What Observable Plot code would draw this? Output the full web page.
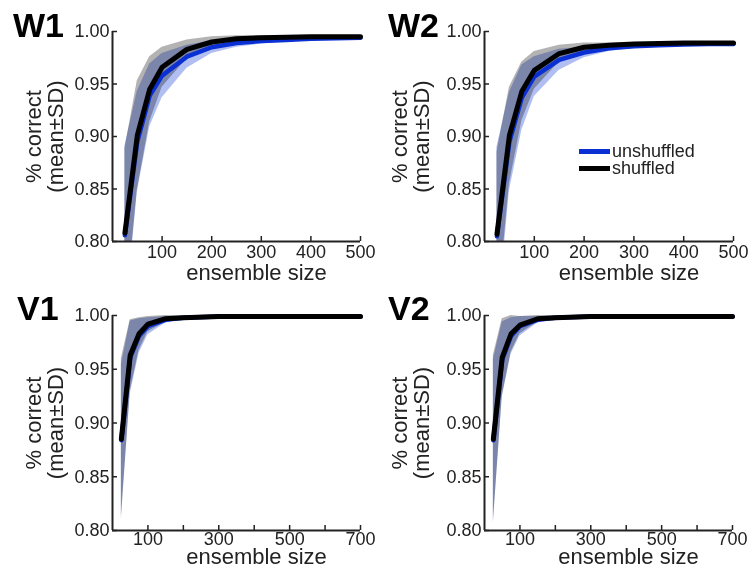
<!DOCTYPE html>
<html><head><meta charset="utf-8">
<script src="https://cdn.jsdelivr.net/npm/d3@7"></script>
<script src="https://cdn.jsdelivr.net/npm/@observablehq/plot@0.6"></script>
<style>
body{margin:0;background:#fff;}
#fig{position:relative;width:751px;height:568px;font-family:"Liberation Sans",Arial,sans-serif;overflow:hidden;background:#fff;}
.panel{position:absolute;}
.panel svg{overflow:visible;}
.plabel{position:absolute;font-weight:bold;font-size:34px;line-height:1;color:#000;white-space:nowrap;}
.ltext{position:absolute;font-size:18px;line-height:1;color:#222;white-space:nowrap;}
.lbar{position:absolute;}
</style></head><body><div id="fig"></div>
<script>
// ---------- data ----------
const sizesW = [25, 50, 75, 100, 150, 200, 250, 300, 350, 400, 450, 500];
const w1ShufMean = [0.808, 0.901, 0.945, 0.966, 0.983, 0.990, 0.993, 0.994, 0.9945, 0.995, 0.995, 0.995];
const w1ShufSd   = [0.080, 0.052, 0.031, 0.019, 0.009, 0.005, 0.003, 0.002, 0.0015, 0.001, 0.001, 0.001];
const w1UnshMean = [0.806, 0.895, 0.939, 0.958, 0.976, 0.985, 0.989, 0.991, 0.992, 0.993, 0.9935, 0.994];
const w1UnshSd   = [0.085, 0.048, 0.030, 0.021, 0.011, 0.006, 0.004, 0.003, 0.002, 0.002, 0.0015, 0.001];

const w2ShufMean = [0.807, 0.901, 0.943, 0.963, 0.979, 0.985, 0.987, 0.988, 0.9885, 0.989, 0.989, 0.989];
const w2ShufSd   = [0.078, 0.046, 0.028, 0.018, 0.008, 0.004, 0.002, 0.0015, 0.001, 0.001, 0.001, 0.001];
const w2UnshMean = [0.805, 0.895, 0.937, 0.957, 0.973, 0.980, 0.984, 0.986, 0.987, 0.9875, 0.988, 0.988];
const w2UnshSd   = [0.085, 0.047, 0.031, 0.019, 0.010, 0.005, 0.003, 0.002, 0.0015, 0.001, 0.001, 0.001];

const sizesV = [25, 50, 75, 100, 150, 200, 300, 400, 500, 600, 700];
const v1ShufMean = [0.885, 0.963, 0.983, 0.992, 0.997, 0.998, 0.999, 0.999, 0.999, 0.999, 0.999];
const v1ShufSd   = [0.075, 0.033, 0.015, 0.007, 0.003, 0.0015, 0.001, 0.001, 0.001, 0.001, 0.001];
const v1UnshMean = [0.884, 0.961, 0.981, 0.990, 0.996, 0.998, 0.999, 0.999, 0.999, 0.999, 0.999];
const v1UnshSd   = [0.070, 0.034, 0.016, 0.008, 0.003, 0.0015, 0.001, 0.001, 0.001, 0.001, 0.001];

const v2ShufMean = [0.885, 0.961, 0.983, 0.991, 0.997, 0.998, 0.999, 0.999, 0.999, 0.999, 0.999];
const v2ShufSd   = [0.078, 0.036, 0.017, 0.008, 0.003, 0.0015, 0.001, 0.001, 0.001, 0.001, 0.001];
const v2UnshMean = [0.884, 0.959, 0.981, 0.990, 0.996, 0.998, 0.999, 0.999, 0.999, 0.999, 0.999];
const v2UnshSd   = [0.075, 0.035, 0.017, 0.009, 0.003, 0.0015, 0.001, 0.001, 0.001, 0.001, 0.001];

const yTicks = [0.80, 0.85, 0.90, 0.95, 1.00];
const xTickLabelsW = [100, 200, 300, 400, 500];
const xTickMarksW = [100, 200, 300, 400, 500];
const xTickLabelsV = [100, 300, 500, 700];
const xTickMarksV = [100, 200, 300, 400, 500, 600, 700];
const panelNames = ["W1", "W2", "V1", "V2"];
const seriesNames = ["unshuffled", "shuffled"];
const yLabel = "% correct\n(mean±SD)";
const xLabel = "ensemble size";

// ---------- drawing ----------
const fig = document.getElementById("fig");
const FONT = "Liberation Sans, Arial, sans-serif";
const AX = "#222";

function rows(sizes, mean, sd) {
  return sizes.map((s, i) => ({size: s, m: mean[i], lo: mean[i] - sd[i], hi: mean[i] + sd[i]}));
}

function panel(o) {
  const plotW = o.width - o.mL - o.mR;
  const plotH = o.height - o.mT - o.mB;
  const shuf = rows(o.sizes, o.shufMean, o.shufSd);
  const unsh = rows(o.sizes, o.unshMean, o.unshSd);
  const svg = Plot.plot({
    width: o.width, height: o.height,
    marginLeft: o.mL, marginRight: o.mR, marginTop: o.mT, marginBottom: o.mB,
    style: {fontFamily: FONT, fontSize: "18px", color: AX, background: "transparent", overflow: "visible"},
    x: {domain: [0, o.xMax]},
    y: {domain: [0.8, 1.0]},
    marks: [
      Plot.areaY(unsh, {x: "size", y1: "lo", y2: "hi", fill: "#b0bef2", clip: true, mixBlendMode: "multiply"}),
      Plot.areaY(shuf, {x: "size", y1: "lo", y2: "hi", fill: "#b3b3b3", clip: true, mixBlendMode: "multiply"}),
      Plot.lineY(unsh, {x: "size", y: "m", stroke: "#0a2fd2", strokeWidth: 4.5}),
      Plot.lineY(shuf, {x: "size", y: "m", stroke: "#000", strokeWidth: 5}),
      Plot.axisY({ticks: yTicks, tickFormat: d => d.toFixed(2), tickSize: 0, tickPadding: 3, label: null, fontSize: 18, fill: AX}),
      Plot.axisX({ticks: o.xTickLabels, tickFormat: d => String(d), tickSize: 0, tickPadding: o.xPad, label: null, fontSize: 18, fill: AX}),
      Plot.tickY(yTicks, {y: d => d, insetRight: plotW - 5, stroke: AX, strokeWidth: 1.5}),
      Plot.tickX(o.xTickMarks, {x: d => d, insetTop: plotH - 5, stroke: AX, strokeWidth: 1.5}),
      Plot.ruleX([0], {stroke: AX, strokeWidth: 2}),
      Plot.ruleY([0.8], {stroke: AX, strokeWidth: 2}),
      Plot.text([yLabel], {frameAnchor: "left", rotate: -90, dx: o.yLabDx, fontSize: 22, lineHeight: 1, textAnchor: "middle", lineAnchor: "middle", fill: AX}),
      Plot.text([xLabel], {frameAnchor: "bottom", dy: o.xLabDy, dx: 20, fontSize: 22, textAnchor: "middle", lineAnchor: "middle", fill: AX})
    ]
  });
  d3.select(svg).selectAll('g[aria-label="area"]').style("mix-blend-mode", "multiply");
  const wrap = document.createElement("div");
  wrap.className = "panel";
  wrap.style.left = o.left + "px";
  wrap.style.top = o.top + "px";
  wrap.appendChild(svg);
  fig.appendChild(wrap);

  const lab = document.createElement("div");
  lab.className = "plabel";
  lab.textContent = o.name;
  lab.style.left = o.labX + "px";
  lab.style.top = o.labY + "px";
  fig.appendChild(lab);
}

panel({name: panelNames[0], labX: 13, labY: 8, left: 0, top: 0, width: 375, height: 284, mL: 112, mR: 15, mT: 31, mB: 43,
  sizes: sizesW, shufMean: w1ShufMean, shufSd: w1ShufSd, unshMean: w1UnshMean, unshSd: w1UnshSd,
  xMax: 500, xTickLabels: xTickLabelsW, xTickMarks: xTickMarksW, yLabDx: -68, xLabDy: 31, xPad: 4});
panel({name: panelNames[1], labX: 388, labY: 8, left: 375, top: 0, width: 376, height: 284, mL: 109, mR: 18, mT: 31, mB: 43,
  sizes: sizesW, shufMean: w2ShufMean, shufSd: w2ShufSd, unshMean: w2UnshMean, unshSd: w2UnshSd,
  xMax: 500, xTickLabels: xTickLabelsW, xTickMarks: xTickMarksW, yLabDx: -74, xLabDy: 31, xPad: 4});
panel({name: panelNames[2], labX: 17, labY: 291, left: 0, top: 284, width: 375, height: 284, mL: 112, mR: 15, mT: 31, mB: 38,
  sizes: sizesV, shufMean: v1ShufMean, shufSd: v1ShufSd, unshMean: v1UnshMean, unshSd: v1UnshSd,
  xMax: 700, xTickLabels: xTickLabelsV, xTickMarks: xTickMarksV, yLabDx: -68, xLabDy: 26, xPad: 2});
panel({name: panelNames[3], labX: 388, labY: 291, left: 375, top: 284, width: 376, height: 284, mL: 109, mR: 19, mT: 31, mB: 38,
  sizes: sizesV, shufMean: v2ShufMean, shufSd: v2ShufSd, unshMean: v2UnshMean, unshSd: v2UnshSd,
  xMax: 700, xTickLabels: xTickLabelsV, xTickMarks: xTickMarksV, yLabDx: -74, xLabDy: 26, xPad: 2});

// legend (in W2 panel)
const legendColors = ["#0a2fd2", "#000"];
seriesNames.forEach((name, i) => {
  const bar = document.createElement("div");
  bar.className = "lbar";
  bar.style.left = "579px";
  bar.style.top = (149 + i * 17) + "px";
  bar.style.width = "31px";
  bar.style.height = "5px";
  bar.style.background = legendColors[i];
  fig.appendChild(bar);
  const t = document.createElement("div");
  t.className = "ltext";
  t.textContent = name;
  t.style.left = "612px";
  t.style.top = (142 + i * 17) + "px";
  fig.appendChild(t);
});
</script></body></html>
